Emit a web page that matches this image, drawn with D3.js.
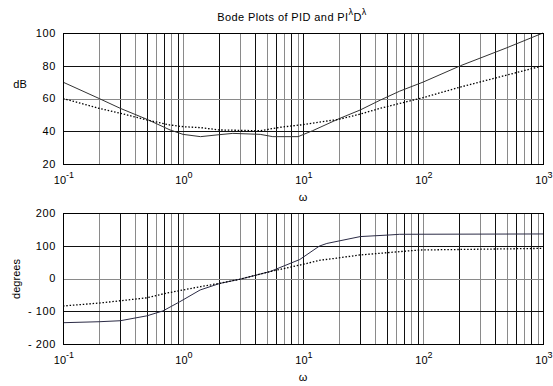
<!DOCTYPE html>
<html>
<head>
<meta charset="utf-8">
<script src="https://cdn.jsdelivr.net/npm/d3@7"></script>
<style>
  body { margin: 0; background: #fff; }
  text { font-family: "Liberation Sans", Arial, sans-serif; font-size: 11px; fill: #000; }
</style>
</head>
<body>
<svg id="chart"></svg>
<script>
let width = 553
let height = 386

// tick labels
const decades = [-1, 0, 1, 2, 3]
const magTicks = [20, 40, 60, 80, 100]
const phaseTicks = [-200, -100, 0, 100, 200]

// magnitude (dB), solid curve
const solidMagW = [0.1, 0.2, 0.3, 0.5, 0.78, 1, 1.4, 2, 2.6, 4.4, 5.6, 9.1, 12, 20, 30, 44, 64, 100, 205, 500, 1000]
const solidMag = [70, 60, 54, 47.3, 40.8, 38.1, 36.7, 37.9, 38.7, 38.1, 36.7, 36.7, 40.3, 47.7, 53, 59, 64.5, 70, 80, 91, 100]

// magnitude (dB), dotted curve
const dottedMagW = [0.1, 0.2, 0.3, 0.5, 0.78, 1, 1.4, 2, 4.4, 6.4, 9.4, 20, 30, 44, 64, 100, 205, 1000]
const dottedMag = [60, 54, 51, 46.9, 43.8, 42.8, 42.2, 40.8, 40.3, 42.4, 43.8, 47.3, 50.5, 54, 57, 60.5, 67, 80]

// phase (degrees), solid curve
const solidPhW = [0.1, 0.2, 0.3, 0.5, 0.68, 0.8, 0.94, 1.39, 2.03, 3, 5.3, 9.4, 13.7, 15.8, 30, 53, 64, 1000]
const solidPh = [-135, -132, -129, -114, -99, -85, -71, -35, -15, -2, 21, 58, 99, 107, 128, 133, 135, 136]

// phase (degrees), dotted curve
const dottedPhW = [0.1, 0.2, 0.3, 0.5, 0.7, 1, 1.4, 2, 3, 5.3, 9.4, 14, 19, 30, 64, 93, 1000]
const dottedPh = [-84, -75, -68, -59, -46, -35, -25, -15, -2, 21, 41, 56, 62, 72, 82, 87, 92]

let svg = d3.select('#chart')
            .attr('width', width)
            .attr('height', height)

let xScale = d3.scaleLog()
               .domain([0.1, 1000])
               .range([63, 543])

let magScale = d3.scaleLinear()
                 .domain([20, 100])
                 .range([164, 33])

let phaseScale = d3.scaleLinear()
                   .domain([-200, 200])
                   .range([344, 213])

let px = v => Math.round(v) + 0.5
let gridColor = i => (i % 2 ? '#8a8a8a' : '#111')

function drawPanel (yScale, yTicks, curves) {
  let g = svg.append('g')
  let [y1, y0] = yScale.range()

  // vertical grid at every decade multiple
  g.selectAll('.vgrid')
    .data(xScale.ticks())
    .enter()
    .append('line')
      .attr('x1', d => px(xScale(d)))
      .attr('x2', d => px(xScale(d)))
      .attr('y1', y0)
      .attr('y2', y1)
      .attr('stroke', (d, i) => gridColor(i))
      .attr('stroke-width', 1)

  // horizontal grid
  g.selectAll('.hgrid')
    .data(yTicks)
    .enter()
    .append('line')
      .attr('x1', 63)
      .attr('x2', 543)
      .attr('y1', d => px(yScale(d)))
      .attr('y2', d => px(yScale(d)))
      .attr('stroke', (d, i) => gridColor(i + 1))

  // curves
  let line = d3.line()
               .x(d => xScale(d[0]))
               .y(d => yScale(d[1]))

  curves.forEach(c => {
    g.append('path')
      .datum(d3.zip(c.w, c.v))
      .attr('d', line)
      .attr('fill', 'none')
      .attr('stroke', c.color)
      .attr('stroke-width', c.width)
      .attr('stroke-dasharray', c.dash)
  })

  // frame
  g.append('rect')
    .attr('x', px(63))
    .attr('y', px(y0))
    .attr('width', 480)
    .attr('height', Math.round(y1) - Math.round(y0))
    .attr('fill', 'none')
    .attr('stroke', '#000')

  // y tick labels
  g.selectAll('.ylab')
    .data(yTicks)
    .enter()
    .append('text')
      .attr('x', 56)
      .attr('y', d => yScale(d))
      .attr('dy', '0.36em')
      .style('text-anchor', 'end')
      .style('letter-spacing', '0.6px')
      .text(d => d3.format('d')(d).replace('−', '-').replace('-', '- '))

  // x tick labels 10^n
  let xl = g.selectAll('.xlab')
    .data(decades)
    .enter()
    .append('text')
      .attr('x', d => xScale(Math.pow(10, d)) + 1)
      .attr('y', y1 + 20)
      .style('text-anchor', 'middle')
  xl.append('tspan').text('10')
  xl.append('tspan')
    .attr('dy', -6)
    .style('font-size', '9px')
    .text(d => d)

  // omega
  g.append('text')
    .attr('x', 303)
    .attr('y', y1 + 37)
    .style('text-anchor', 'middle')
    .text('ω')

  return g
}

drawPanel(magScale, magTicks, [
  { w: solidMagW, v: solidMag, color: '#333', width: 1, dash: null },
  { w: dottedMagW, v: dottedMag, color: '#000', width: 1.3, dash: '1.5 1.8' }
])

drawPanel(phaseScale, phaseTicks, [
  { w: solidPhW, v: solidPh, color: '#2b2b45', width: 1, dash: null },
  { w: dottedPhW, v: dottedPh, color: '#000', width: 1.3, dash: '1.5 1.8' }
])

// y axis titles
svg.append('text')
    .attr('x', 20)
    .attr('y', 84)
    .attr('dy', '0.36em')
    .style('text-anchor', 'middle')
    .text('dB')

svg.append('text')
    .attr('transform', 'rotate(-90)')
    .attr('x', -279)
    .attr('y', 16)
    .attr('dy', '0.36em')
    .style('text-anchor', 'middle')
    .text('degrees')

// title with superscript lambdas
let title = svg.append('text')
    .attr('x', 292)
    .attr('y', 21)
    .style('text-anchor', 'middle')
    .style('letter-spacing', '0.4px')
title.append('tspan').text('Bode Plots of PID and PI')
title.append('tspan').attr('dy', -6).style('font-size', '9px').text('λ')
title.append('tspan').attr('dy', 6).text('D')
title.append('tspan').attr('dy', -6).style('font-size', '9px').text('λ')
</script>
</body>
</html>
